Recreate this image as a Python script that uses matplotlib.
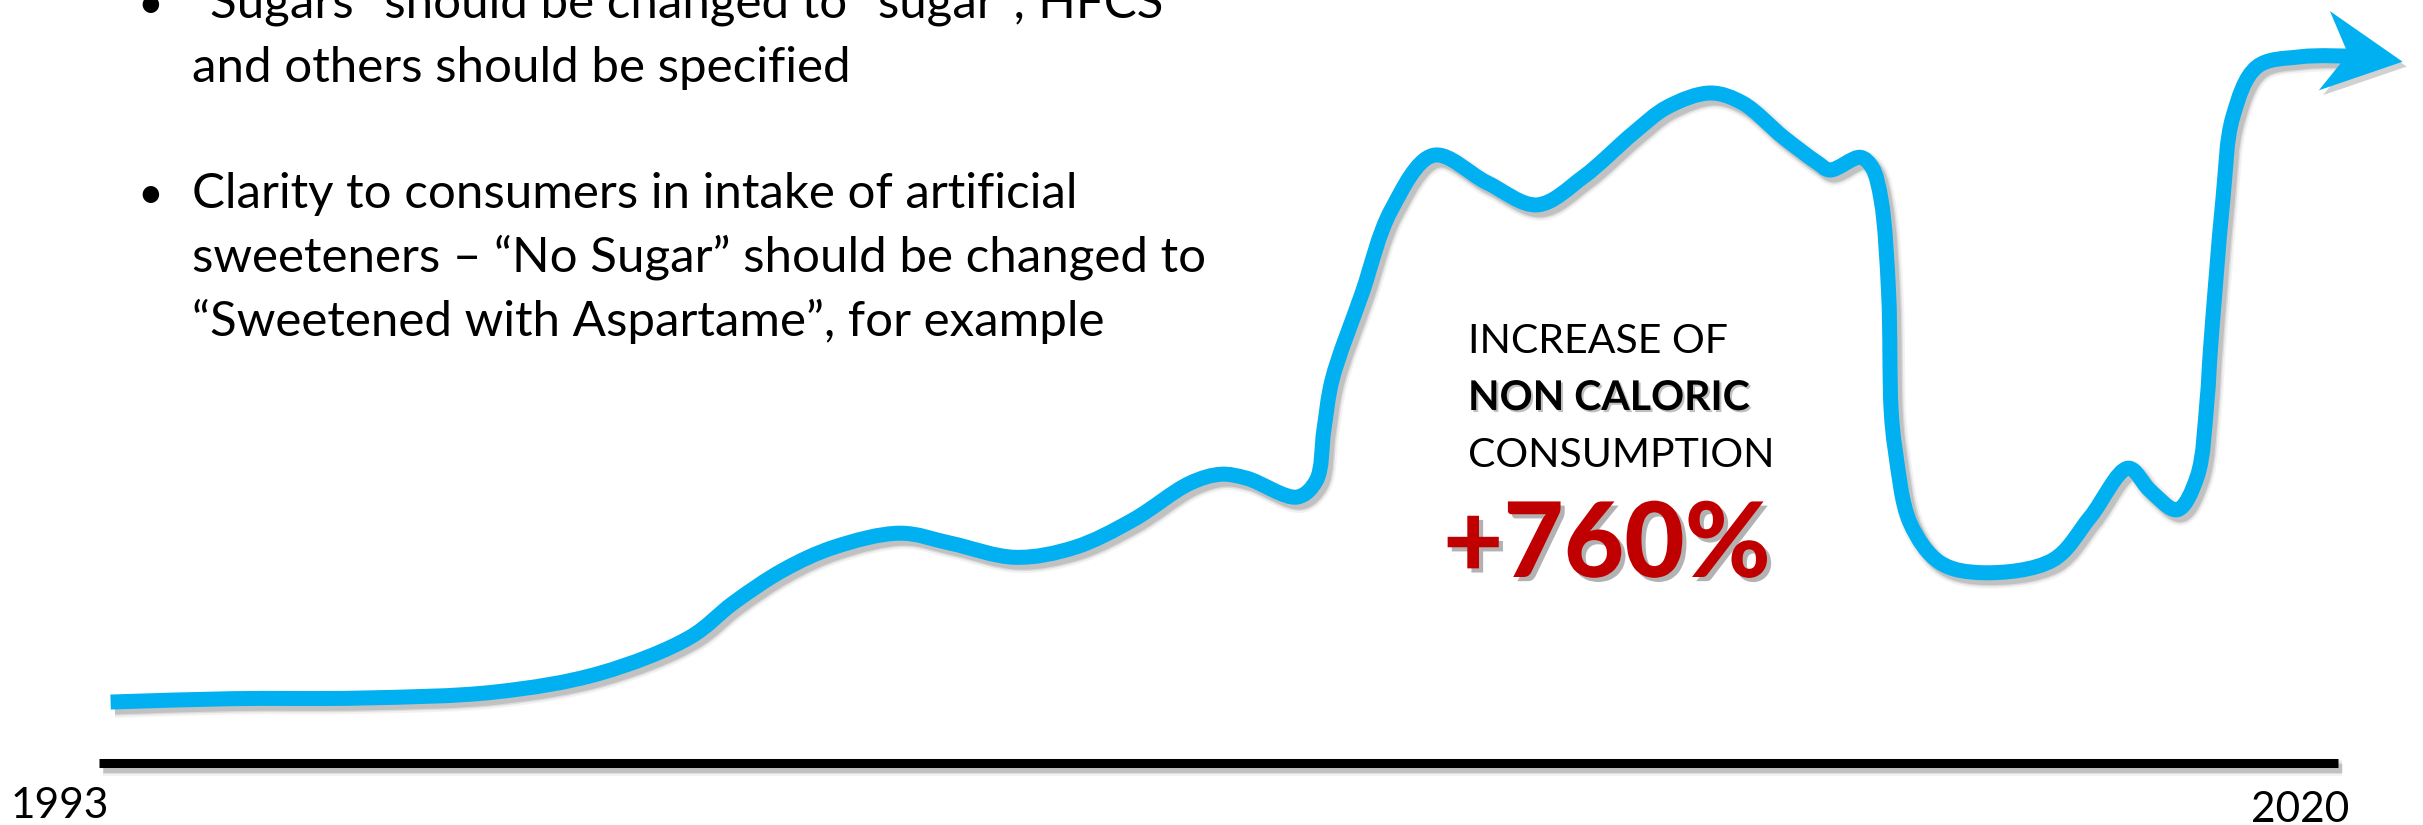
import numpy as np
import matplotlib
matplotlib.use("Agg")
import matplotlib.pyplot as plt
import matplotlib.patheffects as pe
from matplotlib.path import Path
from matplotlib.patches import PathPatch
from matplotlib.markers import MarkerStyle
from matplotlib.transforms import Affine2D

plt.rcParams['font.family'] = ['Lato', 'DejaVu Sans']

# consumption index (schematic), year by year
years = [1993.14, 1994.60, 1996.18, 1997.78, 1999.04, 2000.13, 2000.65,
         2001.25, 2001.86, 2002.66, 2003.27, 2004.05, 2004.77, 2005.47,
         2006.16, 2006.53, 2006.84, 2007.45, 2007.68, 2007.77, 2007.87, 2008.23,
         2008.58, 2009.09, 2009.74, 2010.34, 2010.90, 2011.50, 2011.91, 2012.43,
         2012.82, 2013.31, 2013.72, 2013.87, 2014.24, 2014.38, 2014.49, 2014.58,
         2014.61, 2014.66, 2014.84, 2015.20, 2015.72, 2016.56, 2017.01, 2017.47,
         2017.73, 2018.06, 2018.30, 2018.42, 2018.46, 2018.61, 2018.73, 2019.02,
         2019.54, 2020.30]
index = [9.1, 9.6, 9.7, 10.6, 13.4, 18.8, 23.9,
         28.8, 32.2, 34.3, 32.8, 30.7, 32.2, 36.3,
         41.8, 43.1, 42.5, 39.7, 42.2, 49.7, 57.2, 70.1,
         82.5, 90.7, 86.6, 83.3, 87.5, 94.0, 97.9, 100.0,
         98.5, 93.4, 89.6, 88.5, 90.4, 88.9, 84.0, 70.1,
         52.7, 46.7, 35.8, 29.9, 28.4, 30.3, 36.7, 44.0,
         40.7, 37.8, 42.7, 54.2, 61.6, 84.0, 96.4, 103.9,
         105.4, 105.5]
start_year, end_year = 1993, 2020
year_labels = ['1993', '2020']

bullets = [
    ['\u201cSugars\u201d should be changed to \u201csugar\u201d; HFCS',
     'and others should be specified'],
    ['Clarity to consumers in intake of artificial',
     'sweeteners \u2013 \u201cNo Sugar\u201d should be changed to',
     '\u201cSweetened with Aspartame\u201d, for example'],
]
note_lines = ['INCREASE OF', 'NON CALORIC', 'CONSUMPTION']
note_value = '+760%'

BLUE = '#00B0F0'
RED = '#C00000'
W, H = 2423, 825

fig = plt.figure(figsize=(W / 100, H / 100), dpi=100)
ax = fig.add_axes([0, 0, 1, 1])
ax.set_xlim(1993 - 99 / 82.93, 1993 + (W - 99) / 82.93)
ax.set_ylim(-(H - 763) / 6.7, 763 / 6.7)
ax.axis('off')


def smooth_path(xs, ys):
    # centripetal Catmull-Rom through the points, as cubic bezier segments
    p = np.column_stack([xs, ys]).astype(float)
    p = np.vstack([2 * p[0] - p[1], p, 2 * p[-1] - p[-2]])
    d = ax.transData.transform(p)
    t = np.concatenate([[0], np.cumsum(np.linalg.norm(np.diff(d, axis=0), axis=1) ** 0.5)])
    verts, codes = [p[1]], [Path.MOVETO]
    for i in range(1, len(p) - 2):
        p0, p1, p2, p3 = p[i - 1], p[i], p[i + 1], p[i + 2]
        t0, t1, t2, t3 = t[i - 1], t[i], t[i + 1], t[i + 2]
        m1 = (t2 - t1) * ((p1 - p0) / (t1 - t0) - (p2 - p0) / (t2 - t0) + (p2 - p1) / (t2 - t1))
        m2 = (t2 - t1) * ((p2 - p1) / (t2 - t1) - (p3 - p1) / (t3 - t1) + (p3 - p2) / (t3 - t2))
        verts += [p1 + m1 / 3, p2 - m2 / 3, p2]
        codes += [Path.CURVE4] * 3
    return Path(verts, codes)


def blur_shadow(lw):
    return [pe.SimpleLineShadow(offset=(3, -3.5), shadow_color='k', alpha=0.05, linewidth=lw + 5),
            pe.SimpleLineShadow(offset=(3, -3.5), shadow_color='k', alpha=0.09, linewidth=lw + 2),
            pe.SimpleLineShadow(offset=(3, -3.5), shadow_color='k', alpha=0.12, linewidth=lw),
            pe.Normal()]


# time axis
ax.plot([start_year, end_year], [0, 0], color='black', lw=6.5,
        solid_capstyle='butt', path_effects=blur_shadow(6.5))

# consumption curve
curve = PathPatch(smooth_path(years, index), facecolor='none', edgecolor=BLUE,
                  lw=10.8, capstyle='butt', joinstyle='round',
                  path_effects=blur_shadow(10.8))
ax.add_patch(curve)

# notched arrow head at the end of the curve
head = Path([(40, 0), (-39, 40), (-15, 0), (-39, -40), (40, 0)],
            [Path.MOVETO, Path.LINETO, Path.LINETO, Path.LINETO, Path.CLOSEPOLY])
head_marker = MarkerStyle(head, transform=Affine2D().rotate_deg(-8))
ax.plot([years[-1]], [index[-1]], marker=head_marker, markersize=57.6,
        color=BLUE, markeredgewidth=0, linestyle='none',
        path_effects=[pe.withSimplePatchShadow(offset=(3, -3.5), shadow_rgbFace='k', alpha=0.18)])


def at(x, y):
    return x / W, 1 - y / H


# year labels
fig.text(*at(109, 818), year_labels[0], fontsize=30.5, ha='right', va='baseline')
fig.text(*at(2349, 822), year_labels[1], fontsize=30.5, ha='right', va='baseline')

# bullet text
y = 18
for block in bullets:
    fig.text(*at(137, y), '\u2022', fontsize=32, va='baseline')
    for line in block:
        fig.text(*at(192, y), line, fontsize=35.5, va='baseline')
        y += 64
    y += 62

# annotation
text_shadow = [pe.withSimplePatchShadow(offset=(1.5, -1.5), shadow_rgbFace='0.5', alpha=0.5)]
fig.text(*at(1468, 353), note_lines[0], fontsize=29.5, va='baseline')
fig.text(*at(1468, 410), note_lines[1], fontsize=29.5, fontweight='bold', va='baseline',
         path_effects=text_shadow)
fig.text(*at(1468, 467), note_lines[2], fontsize=29.5, va='baseline')
fig.text(*at(1443, 577), note_value, fontsize=75, fontweight='black', color=RED, va='baseline',
         path_effects=[pe.withSimplePatchShadow(offset=(3, -3), shadow_rgbFace='0.4', alpha=0.5)])

fig.savefig('out.png', dpi=100)
